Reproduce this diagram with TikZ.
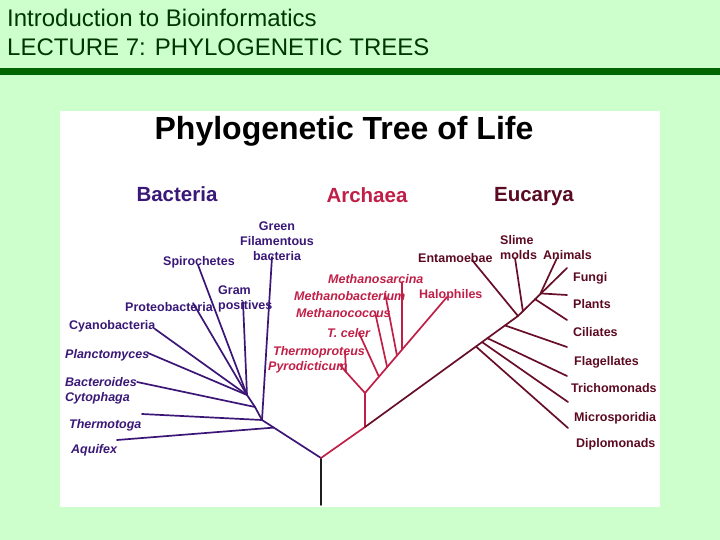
\documentclass[tikz,border=0pt]{standalone}
\usepackage{fontspec}
\setmainfont{Liberation Sans}
\usetikzlibrary{calc}
\definecolor{bg}{RGB}{204,255,204}
\definecolor{barGreen}{RGB}{0,100,0}
\definecolor{headGreen}{RGB}{0,55,0}
\definecolor{bact}{RGB}{60,22,118}
\definecolor{bactText}{RGB}{58,24,120}
\definecolor{arch}{RGB}{192,32,72}
\definecolor{euk}{RGB}{104,14,40}
\definecolor{eukText}{RGB}{92,10,34}
\definecolor{rootcol}{RGB}{30,30,30}
\begin{document}
\begin{tikzpicture}[x=1pt,y=-1pt,
  branch/.style={line width=1.7pt, line cap=round},
  bl/.style={branch, draw=bact},
  al/.style={branch, draw=arch},
  el/.style={branch, draw=euk},
  lab/.style={inner sep=0pt, anchor=base west, font=\bfseries\fontsize{12.5}{15}\selectfont},
  blab/.style={lab, text=bactText},
  bilab/.style={blab, font=\bfseries\itshape\fontsize{12.5}{15}\selectfont},
  alab/.style={lab, text=arch},
  ailab/.style={alab, font=\bfseries\itshape\fontsize{12.5}{15}\selectfont},
  elab/.style={lab, text=eukText},
  domlab/.style={inner sep=0pt, anchor=base, font=\bfseries\fontsize{20.5}{24}\selectfont},
  header/.style={inner sep=0pt, anchor=base west, text=headGreen, font=\fontsize{24}{28}\selectfont}
]
\useasboundingbox (0,0) rectangle (720,540);
\fill[bg] (0,0) rectangle (720,540);
\fill[barGreen] (0,68) rectangle (720,75);
\fill[white] (60,111) rectangle (660,507);

% headers
\node[header] (h1) at (7,27) {Introduction to Bioinformatics};
\node[header] (h2) at (7,56) {LECTURE 7: PHYLOGENETIC TREES};
\node[inner sep=0pt, anchor=base, font=\bfseries\fontsize{32}{36}\selectfont] (title) at (344,140) {Phylogenetic Tree of Life};
\node[domlab, text=bactText] (dB) at (177,202) {Bacteria};
\node[domlab, text=arch] (dA) at (367,203) {Archaea};
\node[domlab, text=eukText] (dE) at (534,202) {Eucarya};

% ---------- coordinates ----------
\coordinate (R0) at (321,505);
\coordinate (R) at (321,458);
% bacteria
\coordinate (B1) at (262,420);
\coordinate (B2) at (255,407);
\coordinate (B3) at (247,395);
\coordinate (Baq) at ($(R)!0.8!(B1)$);
\coordinate (eAq) at (117,440);
\coordinate (eTh) at (142,414);
\coordinate (eGr) at (272,257);
\coordinate (eBc) at (137,382);
\coordinate (ePl) at (148,353);
\coordinate (eCy) at (155,329);
\coordinate (ePr) at (193,303);
\coordinate (eSp) at (198,265);
\coordinate (eGp) at (243,302);
% archaea
\coordinate (A0) at (365,427);
\coordinate (A1) at (365,393);
\coordinate (eHa) at (447,297);
\coordinate (Ap) at (346,372);
\coordinate (eTp) at (345,351);
\coordinate (ePy) at (340,365);
\coordinate (aTc) at ($(A1)!0.17!(eHa)$);
\coordinate (eTc) at (359,333);
\coordinate (aMc) at ($(A1)!0.27!(eHa)$);
\coordinate (eMc) at (375,312);
\coordinate (aMb) at ($(A1)!0.39!(eHa)$);
\coordinate (eMb) at (385,293);
\coordinate (aMs) at ($(A1)!0.45!(eHa)$);
\coordinate (eMs) at (402,282);
% eukarya
\coordinate (En) at (518,316);
\coordinate (Ef) at (567,268);
\coordinate (aDi) at ($(A0)!0.725!(En)$);
\coordinate (eDi) at (568,428);
\coordinate (aMi) at ($(A0)!0.765!(En)$);
\coordinate (eMi) at (568,402);
\coordinate (aTr) at ($(A0)!0.80!(En)$);
\coordinate (eTr) at (567,376);
\coordinate (aFl) at ($(A0)!0.915!(En)$);
\coordinate (eFl) at (567,347);
\coordinate (eEn) at (472,260);
\coordinate (aSl) at ($(En)!0.1!(Ef)$);
\coordinate (eSl) at (515,258);
\coordinate (aCi) at ($(En)!0.35!(Ef)$);
\coordinate (eCi) at (567,320);
\coordinate (aPl) at ($(En)!0.47!(Ef)$);
\coordinate (ePlt) at (567,295);
\coordinate (aAn) at ($(En)!0.45!(Ef)$);
\coordinate (eAn) at (557,258);

% ---------- branches ----------
\draw[branch, draw=rootcol] (R0) -- (R);
\draw[bl] (R) -- (B1) -- (B2) -- (B3);
\draw[bl] (Baq) -- (eAq);
\draw[bl] (B1) -- (eTh);
\draw[bl] (B1) -- (eGr);
\draw[bl] (B2) -- (eBc);
\draw[bl] (B3) -- (ePl);
\draw[bl] (B3) -- (eCy);
\draw[bl] (B3) -- (ePr);
\draw[bl] (B3) -- (eSp);
\draw[bl] (B3) -- (eGp);

\draw[al] (R) -- (A0) -- (A1) -- (eHa);
\draw[al] (A1) -- (Ap) -- (eTp);
\draw[al] (Ap) -- (ePy);
\draw[al] (aTc) -- (eTc);
\draw[al] (aMc) -- (eMc);
\draw[al] (aMb) -- (eMb);
\draw[al] (aMs) -- (eMs);

\draw[el] (A0) -- (En) -- (Ef);
\draw[el] (aDi) -- (eDi);
\draw[el] (aMi) -- (eMi);
\draw[el] (aTr) -- (eTr);
\draw[el] (aFl) -- (eFl);
\draw[el] (En) -- (eEn);
\draw[el] (aSl) -- (eSl);
\draw[el] (aCi) -- (eCi);
\draw[el] (aPl) -- (ePlt);
\draw[el] (aAn) -- (eAn);

% ---------- labels ----------
\node[blab, anchor=center, align=center] (lGr) at (277,241) {Green\\Filamentous\\bacteria};
\node[blab] (lSp) at (163,265.5) {Spirochetes};
\node[blab, align=left] (lGp) at (218,309.5) {Gram\\positives};
\node[blab] (lPr) at (125,311) {Proteobacteria};
\node[blab] (lCy) at (69,329.5) {Cyanobacteria};
\node[bilab] (lPl) at (65,358.5) {Planctomyces};
\node[bilab, align=left] (lBc) at (65,401) {Bacteroides\\Cytophaga};
\node[bilab] (lTh) at (69,428.5) {Thermotoga};
\node[bilab] (lAq) at (71,453.5) {Aquifex};

\node[ailab] (lMs) at (328,283.5) {Methanosarcina};
\node[ailab] (lMb) at (294,300.5) {Methanobacterium};
\node[alab] (lHa) at (419,298.5) {Halophiles};
\node[ailab] (lMc) at (296,317.5) {Methanococcus};
\node[ailab] (lTc) at (327,337) {T. celer};
\node[ailab] (lTp) at (273,355) {Thermoproteus};
\node[ailab] (lPy) at (268,370) {Pyrodicticum};

\node[elab] (lEn) at (418,262.5) {Entamoebae};
\node[elab, align=left] (lSl) at (500,259.5) {Slime\\molds};
\node[elab] (lAn) at (543,259.5) {Animals};
\node[elab] (lFu) at (573,281.5) {Fungi};
\node[elab] (lPlt) at (573,308.5) {Plants};
\node[elab] (lCi) at (573,336.5) {Ciliates};
\node[elab] (lFl) at (574,365) {Flagellates};
\node[elab] (lTr) at (571,392.5) {Trichomonads};
\node[elab] (lMi) at (574,421) {Microsporidia};
\node[elab] (lDi) at (576,447.5) {Diplomonads};
\end{tikzpicture}
\end{document}
